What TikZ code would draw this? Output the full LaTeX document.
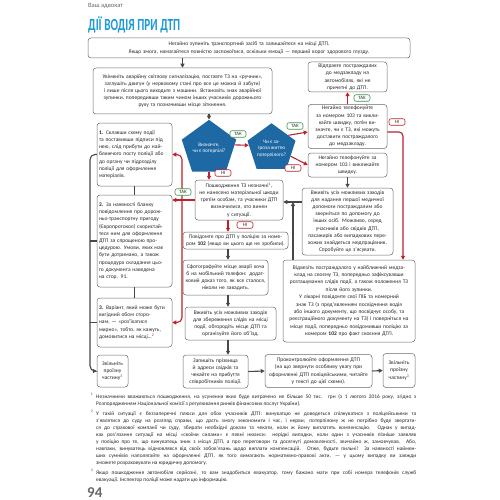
\documentclass[tikz,border=0pt]{standalone}
\usepackage{graphicx}
\usepackage{fontspec}
\setmainfont{Carlito}
\usetikzlibrary{arrows.meta,shapes.geometric,calc}

\definecolor{titleblue}{RGB}{28,155,214}
\definecolor{pentblue}{RGB}{30,104,163}
\definecolor{alarmred}{RGB}{192,32,44}
\definecolor{okgreen}{RGB}{64,150,72}
\definecolor{wiregray}{RGB}{72,72,72}
\definecolor{framegray}{RGB}{105,105,105}
\definecolor{inkgray}{RGB}{40,40,40}

\newcommand{\fnref}[1]{\textsuperscript{\textcolor{alarmred}{#1}}}

\tikzset{
  card/.style={draw=framegray, line width=0.5pt, rounded corners=3pt, fill=white,
    inner xsep=2pt, inner ysep=1pt, text=inkgray, font=\fontsize{5.5}{7.2}\selectfont, align=center},
  pent/.style={regular polygon, regular polygon sides=5, minimum size=49pt, inner sep=0pt,
    fill=pentblue, text=white, font=\fontsize{5.2}{6.4}\selectfont, align=center},
  tag/.style={rounded corners=2pt, fill=white, line width=0.6pt, inner sep=0pt,
    minimum width=16pt, minimum height=6.5pt, text=inkgray, font=\fontsize{4.8}{5}\selectfont},
  tagyes/.style={tag, draw=okgreen},
  tagno/.style={tag, draw=alarmred},
  wire/.style={draw=wiregray, line width=1.1pt},
  grayflow/.style={wire, -{Triangle[length=4pt,width=4pt]}},
  redflow/.style={draw=alarmred, line width=1.1pt, -{Triangle[length=4pt,width=4pt]}},
  fnote/.style={anchor=base west, inner sep=0pt, text width=320pt, align=justify,
    text=inkgray, font=\fontsize{5.4}{7}\selectfont},
}

\begin{document}
\begin{tikzpicture}[x=1pt,y=-1pt]
\useasboundingbox (0,0) rectangle (500,500);
\fill[white] (0,0) rectangle (500,500);

% Heading
\node[anchor=west, inner sep=0pt, text=framegray, font=\fontsize{6.5}{7}\selectfont] (runhead) at (88,6) {Ваш адвокат};
\node[anchor=west, inner sep=0pt, text=titleblue, font={\fontsize{17}{17}\selectfont\bfseries}] (title) at (88,25) {\scalebox{0.66}[1]{ДІЇ ВОДІЯ ПРИ ДТП}};

% Helper points
\coordinate (redrail) at (403,132);
\coordinate (merge) at (293,202);
\coordinate (fork) at (182,200);
\coordinate (spine) at (228,0);
\coordinate (rail) at (90,0);

% Start
\node[card, text width=318pt, minimum height=20pt] (stop) at (249,48) {Негайно зупиніть транспортний засіб та залишайтеся на місці ДТП.\\Якщо змога, намагайтеся повністю заспокоїтися, оскільки емоції — перший ворог здорового глузду.};
\node[card, text width=175pt, minimum height=46pt] (hazard) at (182.5,91) {Увімкніть аварійну світлову сигналізацію, поставте ТЗ на «ручник»,\\заглушіть двигун (у нервовому стані про все це можна й забути)\\і лише після цього виходьте з машини. Встановіть знак аварійної\\зупинки, попередивши таким чином інших учасників дорожнього\\руху та позначивши місце зіткнення.};

% Questions
\node[pent] (victims) at (209,148.5) {Визначте,\\чи є потерпілі?};
\node[pent] (threat) at (271.5,148.5) {Чи є за-\\гроза життю\\потерпілого?};

% Right column
\node[card, text width=75pt, minimum height=30pt] (sendcar) at (347.5,77) {Відправте постраждалих\\до медзакладу на\\автомобілях, які не\\причетні до ДТП.};
\node[card, text width=75pt, minimum height=44pt] (call103a) at (347.5,126.5) {Негайно телефонуйте\\за номером 103 та викли-\\кайте швидку, потім ви-\\значте, чи є ТЗ, які можуть\\доставити постраждалого\\до медзакладу.};
\node[card, text width=75pt, minimum height=24pt] (call103b) at (347.5,165) {Негайно телефонуйте за\\номером 103 і викликайте\\швидку.};
\node[card, text width=87pt, minimum height=67pt] (aid) at (347.5,221.5) {Вживіть усіх можливих заходів\\для надання першої медичної\\допомоги постраждалим або\\зверніться по допомогу до\\інших осіб. Можливо, серед\\учасників або свідків ДТП,\\пасажирів або випадкових пере-\\хожих знайдеться медпрацівник.\\Спробуйте це з’ясувати.};
\node[card, text width=128pt, minimum height=82pt, font=\fontsize{5.5}{7.4}\selectfont] (hospital) at (349,301) {Відвезіть постраждалого у найближчий медза-\\клад на своєму ТЗ, попередньо зафіксувавши\\розташування слідів події, а також положення ТЗ\\після його зупинки.\\У лікарні повідомте свої ПІБ та номерний\\знак ТЗ (з пред’явленням посвідчення водія\\або іншого документу, що посвідчує особу, та\\реєстраційного документу на ТЗ) і поверніться на\\місце події, попередньо повідомивши поліцію за\\номером \textbf{102} про факт скоєння ДТП.};

% Centre column
\node[card, text width=84pt, minimum height=40pt] (minor) at (239,200) {Пошкодження ТЗ незначні\fnref{1},\\не нанесено матеріальної шкоди\\третім особам, та учасники ДТП\\визначилися, хто винен\\у ситуації.};
\node[card, text width=101pt, minimum height=17pt] (police) at (235.5,240.5) {Повідомте про ДТП у поліцію за номе-\\ром \textbf{102} (якщо ви цього ще не зробили).};
\node[card, text width=81pt, minimum height=35pt] (photo) at (225.5,277.5) {Сфотографуйте місце аварії хоча\\б на мобільний телефон: додат-\\ковий доказ того, як все сталося,\\ніколи не завадить.};
\node[card, text width=87pt, minimum height=33pt] (traces) at (230.5,323.5) {Вживіть усіх можливих заходів\\для збереження слідів на місці\\події, обгородіть місце ДТП та\\організуйте його об’їзд.};
\node[card, text width=61pt, minimum height=33pt] (witness) at (215.5,371.5) {Запишіть прізвища\\й адреси свідків та\\чекайте на прибуття\\співробітників поліції.};
\node[card, text width=103pt, minimum height=33pt] (control) at (318.5,371) {Проконтролюйте оформлення ДТП\\(на що звернути особливу увагу при\\оформленні ДТП поліцейськими, читайте\\у тексті до цієї схеми).};
\node[card, text width=28pt, minimum height=34pt] (clearR) at (399,370.5) {Звільніть\\проїзну\\частину\fnref{3}};

% Left column
\node[card, align=left, text width=71pt, minimum height=63pt] (opt1) at (134.5,154.5) {\textbf{1.} Склавши схему події\\та поставивши підписи під\\нею, слід прибути до най-\\ближчого посту поліції або\\до органу чи підрозділу\\поліції для оформлення\\матеріалів.};
\node[card, align=left, text width=71pt, minimum height=92pt] (opt2) at (134.5,241) {\textbf{2.} За наявності бланку\\повідомлення про дорож-\\ньо-транспортну пригоду\\(Європротокол) скористай-\\теся ним для оформлення\\ДТП за спрощеною про-\\цедурою. Умови, яких має\\бути дотримано, а також\\процедура складання цьо-\\го документа наведена\\на стор. 91.};
\node[card, align=left, text width=71pt, minimum height=49pt] (opt3) at (134.5,322.5) {\textbf{3.} Варіант, який може бути\\вигідний обом сторо-\\нам, — «роз’їхатися\\мирно», тобто, як кажуть,\\домовитися на місці…\fnref{2}};
\node[card, text width=27pt, minimum height=32pt] (clearL) at (112.5,371) {Звільніть\\проїзну\\частину\fnref{3}};

% Connectors
\draw[grayflow] (stop.south -| hazard.north) -- (hazard.north);
\draw[grayflow] (hazard.south -| victims.north) -- (victims.north);
\draw[redflow] (victims.8) -- (threat.172);
\draw[redflow] (threat.38) -- (call103a.west |- redrail);
\draw[redflow] (threat.-22) -- (call103b.west);
\draw[redflow] (call103a.north) -- (sendcar.south);
\draw[redflow, rounded corners=4pt] (call103a.east |- redrail) -| (hospital.north -| redrail);
\draw[grayflow] (call103b.south) -- (aid.north);
\draw[grayflow] (aid.west |- merge) -- (minor.east |- merge);
\draw[grayflow] (hospital.north -| merge) -- (merge);
\draw[redflow] (victims.south) -- (victims.south |- minor.north);
\draw[redflow] (minor.south -| spine) -- (police.north -| spine);
\draw[redflow] (minor.west) -- (opt2.east |- minor.west);
\draw[redflow, rounded corners=5pt] (fork) |- (opt1.east);
\draw[redflow, rounded corners=5pt] (fork) |- (opt3.east);
\draw[grayflow] (police.south -| spine) -- (photo.north -| spine);
\draw[grayflow] (photo.south -| spine) -- (traces.north -| spine);
\draw[grayflow] (traces.south -| spine) -- (witness.north -| spine);
\draw[grayflow] (witness.east) -- (control.west);
\draw[grayflow] (control.east) -- (clearR.west);
\draw[wire] (opt1.south) -- (opt2.north);
\draw[wire] (opt2.south) -- (opt3.north);
\draw[grayflow, rounded corners=5pt] (opt1.west) -| (rail |- clearL.west) -- (clearL.west);
\draw[wire] (opt2.west) -- (opt2.west -| rail);
\draw[wire] (opt3.west) -- (opt3.west -| rail);

% Tags
\node[tagyes] (yes1) at (238,134) {ТАК};
\node[tagyes] (yes2) at (295,126) {ТАК};
\node[tagno] (no1) at (293,168) {НІ};
\node[tagyes] (yes3) at (362,98) {ТАК};
\node[tagno] (no2) at (397,122) {НІ};
\node[tagno] (no3) at (223,173) {НІ};
\node[tagno] (no4) at (245,225) {НІ};
\node[tagyes] (yes4) at (183,192) {ТАК};

% Footnotes
\node[fnote] (fn1) at (96,398) {\noindent\llap{\fnref{1}\hspace{3pt}}Незначними вважаються пошкодження, на усунення яких буде витрачено не більше 50 тис. грн (з 1 лютого 2016 року, згідно з\linebreak Розпорядженням Національної комісії з регулювання ринків фінансових послуг України).};
\node[fnote] (fn2) at (96,415) {\noindent\llap{\fnref{2}\hspace{3pt}}У такій ситуації є беззаперечні плюси для обох учасників ДТП: винуватцю не доведеться спілкуватися з поліцейськими та\linebreak з’являтися до суду на розгляд справи, що дасть змогу зекономити і час, і нерви; потерпілому ж не потрібно буде звертати-\linebreak ся до страхової компанії чи суду, збирати необхідні докази та чекати, коли ж йому виплатять компенсацію. Однак у випад-\linebreak ках роз’язання ситуації на місці «своїми силами» є певні нюанси: нерідкі випадки, коли один з учасників пізніше заявляв\linebreak у поліцію про те, що винуватець зник з місця ДТП, а про переговори та досягнуті домовленості, звичайно ж, замовчував. Або,\linebreak навпаки, винуватець відмовлявся від своїх зобов’язань щодо виплати компенсацій. Отже, будьте пильні! За наявності наймен-\linebreak ших сумнівів наполягайте на оформленні ДТП, як того вимагають нормативно-правові акти, — у цьому випадку ви завжди\linebreak зможете розраховувати на юридичну допомогу.};
\node[fnote] (fn3) at (96,474) {\noindent\llap{\fnref{3}\hspace{3pt}}Якщо пошкодження автомобіля серйозні, то вам знадобиться евакуатор, тому бажано мати при собі номера телефонів служб\linebreak евакуації. Інспектор поліції може надати цю інформацію.};

% Page number
\node[anchor=base west, inner sep=0pt, text=framegray, font={\fontsize{15}{15}\selectfont\bfseries}] (folio) at (87,497) {94};

\end{tikzpicture}
\end{document}
